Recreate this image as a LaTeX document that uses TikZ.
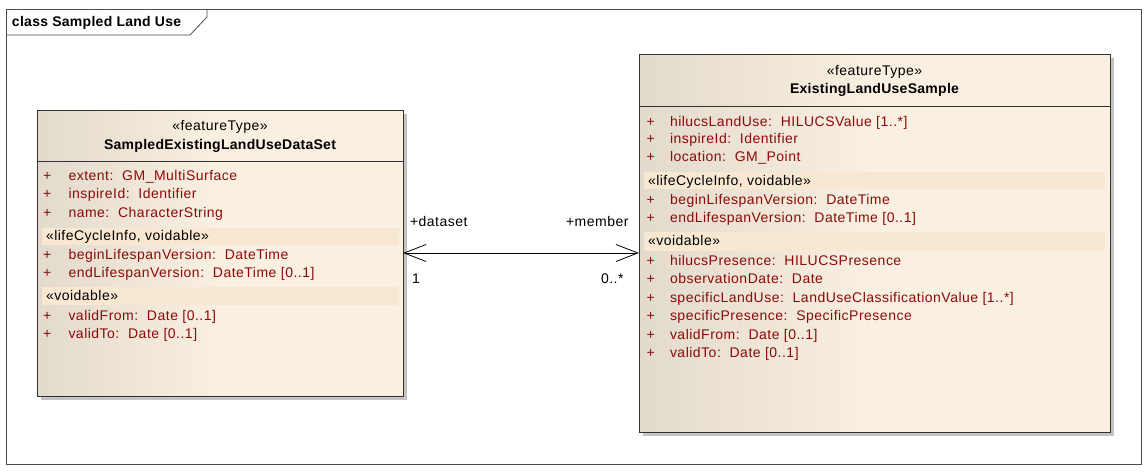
\documentclass[tikz,border=0pt]{standalone}
\usepackage{fontspec}
\setmainfont{Liberation Sans}
\newfontfamily\umlfont[LetterSpace=3.5]{Liberation Sans}
\newfontfamily\umlboldfont[LetterSpace=2]{Liberation Sans Bold}
\usetikzlibrary{arrows.meta,shadows}
\definecolor{attrred}{RGB}{140,10,10}
\definecolor{boxL}{RGB}{226,218,204}
\definecolor{boxR}{RGB}{250,240,225}
\definecolor{bandc}{RGB}{248,232,210}
\definecolor{shadowc}{RGB}{195,195,195}
\pgfdeclarehorizontalshading{umlshade}{100bp}{color(0bp)=(boxL); color(25bp)=(boxL); color(50bp)=(boxR); color(100bp)=(boxR)}
\tikzset{
  frame/.style={draw=black!70, line width=0.8pt},
  cls/.style={draw=black!80, line width=1pt, shading=umlshade,
    anchor=north west, inner sep=0pt, outer sep=0pt,
    drop shadow={shadow xshift=4pt, shadow yshift=-4pt, fill=shadowc, opacity=1}},
  divider/.style={draw=black!80, line width=1pt},
  bandbox/.style={fill=bandc},
  txt/.style={anchor=base west, inner sep=0pt, outer sep=0pt, font=\umlfont\fontsize{14}{16}\selectfont},
  bold/.style={font=\umlboldfont\fontsize{14}{16}\selectfont},
  ctr/.style={txt, anchor=base},
  attr/.style={txt, text=attrred},
  plus/.style={txt, text=attrred},
  assoc/.style={line width=0.8pt, {Straight Barb[length=22pt,width=17pt,line width=0.8pt]}-{Straight Barb[length=22pt,width=17pt,line width=0.8pt]}},
}
\begin{document}
\begin{tikzpicture}[x=1pt,y=-1pt]
\useasboundingbox (0,0) rectangle (1148,471);
\fill[white] (0,0) rectangle (1148,471);
% frame
\draw[frame] (6,9) rectangle (1141,464);
\draw[frame] (6,35) -- (190,35) -- (207,17) -- (207,9);
\node[txt, bold] (title) at (12,26) {class Sampled Land Use};

% ---------- left class ----------
\node[cls, minimum width=366pt, minimum height=286pt] (ds) at (37,110) {};
\draw[divider] (ds.north west) ++(0,51) -- ++(366,0);
\node[ctr] (dsst) at (220,130) {«featureType»};
\node[ctr, bold] (dsname) at (220,149) {SampledExistingLandUseDataSet};
\node[plus] (dsp1) at (43,180) {+}; \node[attr] (dsa1) at (68.5,180) {extent:\ \ GM\_MultiSurface};
\node[plus] (dsp2) at (43,198.5) {+}; \node[attr] (dsa2) at (68.5,198.5) {inspireId:\ \ Identifier};
\node[plus] (dsp3) at (43,217) {+}; \node[attr] (dsa3) at (68.5,217) {name:\ \ CharacterString};
\fill[bandbox] (42,228) rectangle (399,245);
\node[txt] (dsb1) at (46,240) {«lifeCycleInfo, voidable»};
\node[plus] (dsp4) at (43,259) {+}; \node[attr] (dsa4) at (68.5,259) {beginLifespanVersion:\ \ DateTime};
\node[plus] (dsp5) at (43,277) {+}; \node[attr] (dsa5) at (68.5,277) {endLifespanVersion:\ \ DateTime [0..1]};
\fill[bandbox] (42,287) rectangle (399,305);
\node[txt] (dsb2) at (46,300) {«voidable»};
\node[plus] (dsp6) at (43,320) {+}; \node[attr] (dsa6) at (68.5,320) {validFrom:\ \ Date [0..1]};
\node[plus] (dsp7) at (43,338) {+}; \node[attr] (dsa7) at (68.5,338) {validTo:\ \ Date [0..1]};

% ---------- right class ----------
\node[cls, minimum width=471pt, minimum height=378pt] (els) at (639,54) {};
\draw[divider] (els.north west) ++(0,52) -- ++(471,0);
\node[ctr] (elsst) at (874.5,75) {«featureType»};
\node[ctr, bold] (elsname) at (874.5,93) {ExistingLandUseSample};
\node[plus] (ep1) at (646.5,126) {+}; \node[attr] (ea1) at (670,126) {hilucsLandUse:\ \ HILUCSValue [1..*]};
\node[plus] (ep2) at (646.5,143.5) {+}; \node[attr] (ea2) at (670,143.5) {inspireId:\ \ Identifier};
\node[plus] (ep3) at (646.5,161) {+}; \node[attr] (ea3) at (670,161) {location:\ \ GM\_Point};
\fill[bandbox] (644,172) rectangle (1105,189);
\node[txt] (eb1) at (648,185) {«lifeCycleInfo, voidable»};
\node[plus] (ep4) at (646.5,204) {+}; \node[attr] (ea4) at (670,204) {beginLifespanVersion:\ \ DateTime};
\node[plus] (ep5) at (646.5,222) {+}; \node[attr] (ea5) at (670,222) {endLifespanVersion:\ \ DateTime [0..1]};
\fill[bandbox] (644,232) rectangle (1105,251);
\node[txt] (eb2) at (648,245.5) {«voidable»};
\node[plus] (ep6) at (646.5,265) {+}; \node[attr] (ea6) at (670,265) {hilucsPresence:\ \ HILUCSPresence};
\node[plus] (ep7) at (646.5,283) {+}; \node[attr] (ea7) at (670,283) {observationDate:\ \ Date};
\node[plus] (ep8) at (646.5,302) {+}; \node[attr] (ea8) at (670,302) {specificLandUse:\ \ LandUseClassificationValue [1..*]};
\node[plus] (ep9) at (646.5,320) {+}; \node[attr] (ea9) at (670,320) {specificPresence:\ \ SpecificPresence};
\node[plus] (ep10) at (646.5,339) {+}; \node[attr] (ea10) at (670,339) {validFrom:\ \ Date [0..1]};
\node[plus] (ep11) at (646.5,357) {+}; \node[attr] (ea11) at (670,357) {validTo:\ \ Date [0..1]};

% ---------- association ----------
\coordinate (ly) at (0,253);
\draw[assoc] (ds.east |- ly) -- (els.west |- ly);
\node[txt] (r1) at (410,226) {+dataset};
\node[txt, anchor=base east] (r2) at (628.5,226) {+member};
\node[txt] (m1) at (412,283) {1};
\node[txt, anchor=base east] (m2) at (623.5,283) {0..*};
\end{tikzpicture}
\end{document}
